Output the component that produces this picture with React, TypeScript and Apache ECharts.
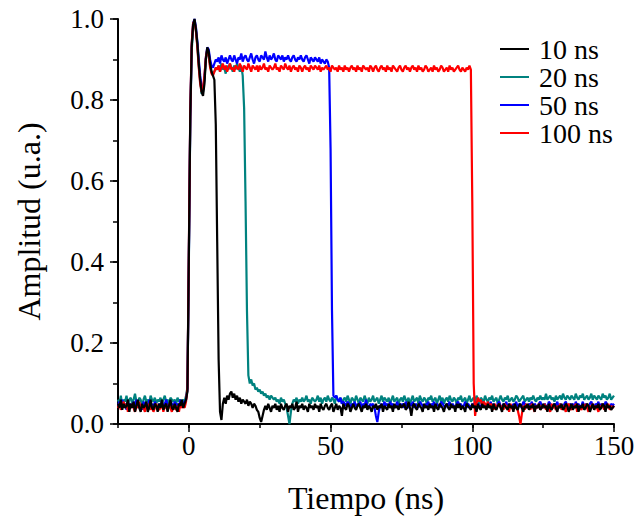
import React, { useEffect, useRef } from "react";
import * as echarts from "echarts";

// Sampling grid of the traces (ns)
const T_START = -25;
const T_STEP = 0.5;

// Axis ticks
const X_LABEL_TICKS = [0, 50, 100, 150];
const Y_LABEL_TICKS = [0, 0.2, 0.4, 0.6, 0.8, 1.0];

const SERIES_NAMES = ["10 ns", "20 ns", "50 ns", "100 ns"];

// Amplitude (u.a.) sampled every 0.5 ns from -25 ns to 150 ns
const AMP_10NS = [
  0.05, 0.04, 0.06, 0.035, 0.05, 0.04, 0.045, 0.06, 0.03, 0.05,
  0.04, 0.055, 0.03, 0.045, 0.06, 0.04, 0.03, 0.05, 0.04, 0.045,
  0.055, 0.03, 0.04, 0.06, 0.04, 0.035, 0.05, 0.045, 0.03, 0.05,
  0.04, 0.06, 0.035, 0.045, 0.05, 0.03, 0.045, 0.06, 0.04, 0.035,
  0.05, 0.04, 0.03, 0.05, 0.045, 0.06, 0.04, 0.05, 0.06, 0.08,
  0.42, 0.76, 0.93, 0.985, 1.0, 0.975, 0.94, 0.89, 0.85, 0.82,
  0.81, 0.84, 0.9, 0.93, 0.92, 0.89, 0.87, 0.86, 0.85, 0.74,
  0.45, 0.16, 0.03, 0.01, 0.05, 0.065, 0.05, 0.07, 0.06, 0.075,
  0.08, 0.065, 0.075, 0.06, 0.07, 0.055, 0.065, 0.05, 0.06, 0.055,
  0.05, 0.06, 0.045, 0.055, 0.05, 0.04, 0.05, 0.045, 0.035, 0.03,
  0.015, 0.005, 0.02, 0.035, 0.045, 0.035, 0.05, 0.04, 0.03, 0.045,
  0.04, 0.05, 0.035, 0.045, 0.03, 0.05, 0.04, 0.035, 0.045, 0.05,
  0.03, 0.045, 0.04, 0.05, 0.035, 0.04, 0.055, 0.03, 0.045, 0.04,
  0.05, 0.035, 0.045, 0.04, 0.03, 0.05, 0.04, 0.045, 0.035, 0.05,
  0.04, 0.045, 0.03, 0.05, 0.04, 0.035, 0.045, 0.05, 0.04, 0.035,
  0.045, 0.05, 0.03, 0.04, 0.05, 0.035, 0.045, 0.04, 0.02, 0.05,
  0.04, 0.035, 0.05, 0.045, 0.03, 0.04, 0.05, 0.04, 0.035, 0.045,
  0.05, 0.04, 0.03, 0.045, 0.04, 0.05, 0.035, 0.045, 0.04, 0.03,
  0.045, 0.04, 0.05, 0.035, 0.045, 0.04, 0.05, 0.03, 0.045, 0.04,
  0.035, 0.05, 0.04, 0.045, 0.03, 0.05, 0.04, 0.045, 0.035, 0.05,
  0.04, 0.045, 0.05, 0.035, 0.04, 0.055, 0.04, 0.02, 0.045, 0.05,
  0.04, 0.035, 0.05, 0.045, 0.04, 0.03, 0.05, 0.04, 0.045, 0.035,
  0.05, 0.04, 0.045, 0.03, 0.05, 0.04, 0.035, 0.05, 0.045, 0.04,
  0.03, 0.045, 0.05, 0.04, 0.035, 0.05, 0.04, 0.045, 0.03, 0.05,
  0.04, 0.05, 0.035, 0.045, 0.04, 0.03, 0.05, 0.045, 0.04, 0.035,
  0.05, 0.04, 0.045, 0.03, 0.05, 0.04, 0.035, 0.05, 0.04, 0.045,
  0.035, 0.05, 0.04, 0.045, 0.03, 0.05, 0.04, 0.035, 0.045, 0.05,
  0.04, 0.03, 0.05, 0.045, 0.04, 0.035, 0.05, 0.04, 0.045, 0.03,
  0.05, 0.04, 0.035, 0.045, 0.05, 0.04, 0.03, 0.045, 0.04, 0.05,
  0.035, 0.045, 0.04, 0.05, 0.03, 0.045, 0.04, 0.05, 0.035, 0.04,
  0.05, 0.04, 0.045, 0.03, 0.05, 0.04, 0.035, 0.045, 0.05, 0.04,
  0.03, 0.045, 0.04, 0.05, 0.035, 0.04, 0.05, 0.045, 0.03, 0.04,
  0.05, 0.035, 0.045, 0.04, 0.05, 0.03, 0.045, 0.04, 0.05, 0.035,
  0.04, 0.05, 0.045, 0.03, 0.04, 0.05, 0.035, 0.045, 0.04, 0.05,
  0.035, 0.04, 0.05, 0.045, 0.03, 0.05, 0.04, 0.045, 0.035, 0.04,
  0.045,
];

const AMP_20NS = [
  0.06, 0.05, 0.07, 0.045, 0.06, 0.055, 0.07, 0.05, 0.06, 0.065,
  0.05, 0.06, 0.075, 0.055, 0.05, 0.065, 0.06, 0.045, 0.06, 0.07,
  0.055, 0.06, 0.05, 0.07, 0.06, 0.055, 0.065, 0.05, 0.06, 0.055,
  0.065, 0.05, 0.06, 0.07, 0.055, 0.06, 0.05, 0.065, 0.06, 0.055,
  0.06, 0.05, 0.065, 0.055, 0.06, 0.05, 0.06, 0.055, 0.07, 0.09,
  0.4, 0.75, 0.92, 0.98, 0.995, 0.97, 0.935, 0.885, 0.845, 0.815,
  0.82, 0.85, 0.9, 0.925, 0.915, 0.885, 0.87, 0.865, 0.87, 0.88,
  0.875, 0.885, 0.87, 0.89, 0.875, 0.88, 0.865, 0.885, 0.875, 0.89,
  0.88, 0.87, 0.885, 0.875, 0.89, 0.88, 0.87, 0.885, 0.86, 0.78,
  0.55, 0.28, 0.12, 0.1, 0.11, 0.095, 0.1, 0.085, 0.09, 0.08,
  0.085, 0.075, 0.08, 0.07, 0.075, 0.065, 0.07, 0.06, 0.07, 0.065,
  0.06, 0.065, 0.055, 0.06, 0.05, 0.065, 0.055, 0.06, 0.05, 0.04,
  0.02, 0.0, 0.03, 0.05, 0.06, 0.055, 0.065, 0.05, 0.06, 0.055,
  0.065, 0.055, 0.06, 0.07, 0.055, 0.06, 0.05, 0.065, 0.06, 0.055,
  0.06, 0.07, 0.055, 0.065, 0.05, 0.06, 0.065, 0.055, 0.07, 0.06,
  0.055, 0.065, 0.06, 0.05, 0.07, 0.06, 0.055, 0.065, 0.05, 0.06,
  0.065, 0.055, 0.07, 0.06, 0.05, 0.065, 0.06, 0.055, 0.07, 0.06,
  0.05, 0.065, 0.06, 0.055, 0.07, 0.06, 0.05, 0.065, 0.055, 0.06,
  0.07, 0.055, 0.06, 0.065, 0.05, 0.06, 0.07, 0.055, 0.065, 0.06,
  0.055, 0.065, 0.05, 0.06, 0.07, 0.055, 0.06, 0.065, 0.05, 0.06,
  0.065, 0.055, 0.07, 0.06, 0.055, 0.065, 0.05, 0.06, 0.07, 0.055,
  0.06, 0.065, 0.05, 0.07, 0.06, 0.055, 0.065, 0.06, 0.05, 0.065,
  0.06, 0.07, 0.055, 0.06, 0.065, 0.05, 0.06, 0.07, 0.055, 0.065,
  0.05, 0.06, 0.065, 0.055, 0.07, 0.06, 0.055, 0.065, 0.06, 0.05,
  0.065, 0.06, 0.07, 0.055, 0.06, 0.065, 0.05, 0.06, 0.07, 0.055,
  0.06, 0.065, 0.055, 0.07, 0.06, 0.05, 0.065, 0.06, 0.055, 0.07,
  0.06, 0.055, 0.065, 0.06, 0.07, 0.055, 0.06, 0.065, 0.05, 0.06,
  0.07, 0.06, 0.055, 0.065, 0.06, 0.07, 0.055, 0.06, 0.065, 0.055,
  0.06, 0.07, 0.065, 0.055, 0.06, 0.065, 0.07, 0.055, 0.06, 0.065,
  0.055, 0.065, 0.06, 0.07, 0.06, 0.055, 0.065, 0.06, 0.07, 0.06,
  0.065, 0.06, 0.075, 0.06, 0.065, 0.07, 0.06, 0.065, 0.055, 0.07,
  0.06, 0.065, 0.07, 0.06, 0.075, 0.065, 0.06, 0.07, 0.065, 0.06,
  0.07, 0.065, 0.06, 0.075, 0.065, 0.06, 0.07, 0.065, 0.075, 0.06,
  0.065, 0.07, 0.06, 0.065, 0.075, 0.06, 0.07, 0.065, 0.06, 0.07,
  0.065, 0.06, 0.075, 0.065, 0.07, 0.06, 0.065, 0.075, 0.06, 0.065,
  0.07,
];

const AMP_50NS = [
  0.045, 0.055, 0.04, 0.06, 0.045, 0.05, 0.035, 0.055, 0.045, 0.05,
  0.04, 0.055, 0.045, 0.06, 0.04, 0.05, 0.045, 0.035, 0.055, 0.045,
  0.05, 0.04, 0.06, 0.045, 0.05, 0.04, 0.055, 0.045, 0.04, 0.05,
  0.045, 0.055, 0.04, 0.05, 0.06, 0.045, 0.04, 0.055, 0.05, 0.04,
  0.055, 0.045, 0.05, 0.04, 0.06, 0.045, 0.05, 0.055, 0.06, 0.085,
  0.41, 0.76, 0.935, 0.99, 1.0, 0.98, 0.945, 0.9, 0.86, 0.83,
  0.825, 0.855, 0.905, 0.93, 0.925, 0.9, 0.885, 0.88, 0.89, 0.9,
  0.895, 0.905, 0.89, 0.91, 0.9, 0.895, 0.905, 0.89, 0.9, 0.91,
  0.9, 0.895, 0.91, 0.9, 0.89, 0.905, 0.9, 0.915, 0.895, 0.905,
  0.91, 0.9, 0.895, 0.905, 0.915, 0.9, 0.89, 0.905, 0.91, 0.9,
  0.895, 0.91, 0.905, 0.9, 0.92, 0.905, 0.895, 0.91, 0.9, 0.905,
  0.915, 0.9, 0.895, 0.91, 0.905, 0.9, 0.91, 0.895, 0.905, 0.9,
  0.91, 0.9, 0.895, 0.905, 0.91, 0.9, 0.895, 0.905, 0.9, 0.91,
  0.9, 0.895, 0.905, 0.91, 0.9, 0.89, 0.905, 0.9, 0.895, 0.905,
  0.9, 0.895, 0.905, 0.89, 0.9, 0.895, 0.89, 0.9, 0.895, 0.88,
  0.68, 0.28, 0.07, 0.065, 0.07, 0.06, 0.055, 0.065, 0.05, 0.055,
  0.05, 0.045, 0.055, 0.05, 0.04, 0.05, 0.045, 0.055, 0.04, 0.05,
  0.045, 0.055, 0.04, 0.05, 0.045, 0.06, 0.045, 0.04, 0.05, 0.045,
  0.05, 0.04, 0.02, 0.005, 0.03, 0.045, 0.05, 0.04, 0.055, 0.045,
  0.05, 0.04, 0.055, 0.045, 0.05, 0.04, 0.045, 0.055, 0.04, 0.05,
  0.045, 0.05, 0.04, 0.055, 0.045, 0.04, 0.05, 0.045, 0.055, 0.04,
  0.05, 0.045, 0.04, 0.055, 0.05, 0.045, 0.04, 0.05, 0.045, 0.055,
  0.04, 0.05, 0.045, 0.055, 0.04, 0.05, 0.045, 0.04, 0.055, 0.05,
  0.045, 0.04, 0.05, 0.045, 0.055, 0.04, 0.05, 0.045, 0.04, 0.05,
  0.055, 0.045, 0.05, 0.04, 0.045, 0.055, 0.04, 0.05, 0.045, 0.04,
  0.05, 0.045, 0.055, 0.04, 0.05, 0.045, 0.04, 0.055, 0.05, 0.045,
  0.04, 0.05, 0.045, 0.055, 0.04, 0.05, 0.045, 0.04, 0.05, 0.055,
  0.045, 0.04, 0.05, 0.045, 0.055, 0.04, 0.05, 0.045, 0.04, 0.05,
  0.045, 0.055, 0.04, 0.05, 0.045, 0.04, 0.055, 0.05, 0.045, 0.04,
  0.05, 0.045, 0.055, 0.04, 0.05, 0.045, 0.04, 0.05, 0.055, 0.045,
  0.04, 0.05, 0.045, 0.04, 0.055, 0.05, 0.045, 0.04, 0.05, 0.045,
  0.055, 0.04, 0.05, 0.045, 0.04, 0.05, 0.055, 0.045, 0.04, 0.05,
  0.045, 0.05, 0.04, 0.055, 0.045, 0.05, 0.04, 0.045, 0.055, 0.04,
  0.05, 0.045, 0.04, 0.05, 0.055, 0.045, 0.04, 0.05, 0.045, 0.055,
  0.04, 0.05, 0.045, 0.04, 0.055, 0.05, 0.045, 0.04, 0.05, 0.045,
  0.05,
];

const AMP_100NS = [
  0.04, 0.05, 0.035, 0.045, 0.055, 0.04, 0.05, 0.03, 0.045, 0.04,
  0.05, 0.04, 0.03, 0.045, 0.04, 0.055, 0.035, 0.045, 0.04, 0.03,
  0.045, 0.04, 0.05, 0.035, 0.045, 0.03, 0.04, 0.05, 0.04, 0.035,
  0.04, 0.05, 0.03, 0.045, 0.04, 0.035, 0.05, 0.04, 0.03, 0.045,
  0.04, 0.035, 0.045, 0.03, 0.05, 0.04, 0.045, 0.04, 0.055, 0.09,
  0.43, 0.77, 0.94, 0.99, 0.995, 0.97, 0.93, 0.88, 0.84, 0.82,
  0.83, 0.86, 0.905, 0.925, 0.91, 0.88, 0.865, 0.86, 0.87, 0.88,
  0.875, 0.885, 0.87, 0.88, 0.89, 0.875, 0.885, 0.87, 0.88, 0.89,
  0.875, 0.88, 0.87, 0.885, 0.88, 0.875, 0.89, 0.88, 0.87, 0.885,
  0.88, 0.875, 0.89, 0.88, 0.87, 0.885, 0.88, 0.875, 0.885, 0.87,
  0.885, 0.875, 0.88, 0.89, 0.875, 0.88, 0.87, 0.885, 0.88, 0.875,
  0.88, 0.89, 0.875, 0.88, 0.87, 0.885, 0.88, 0.875, 0.89, 0.88,
  0.875, 0.885, 0.87, 0.88, 0.885, 0.875, 0.88, 0.87, 0.885, 0.88,
  0.87, 0.88, 0.885, 0.875, 0.88, 0.87, 0.885, 0.88, 0.875, 0.885,
  0.88, 0.875, 0.885, 0.87, 0.88, 0.875, 0.88, 0.885, 0.875, 0.88,
  0.87, 0.885, 0.88, 0.875, 0.88, 0.87, 0.885, 0.875, 0.88, 0.87,
  0.885, 0.875, 0.88, 0.87, 0.88, 0.885, 0.875, 0.88, 0.87, 0.885,
  0.875, 0.88, 0.87, 0.885, 0.88, 0.875, 0.88, 0.87, 0.885, 0.88,
  0.87, 0.88, 0.885, 0.875, 0.87, 0.88, 0.885, 0.875, 0.88, 0.87,
  0.885, 0.875, 0.88, 0.87, 0.885, 0.88, 0.875, 0.87, 0.88, 0.885,
  0.875, 0.87, 0.88, 0.885, 0.875, 0.88, 0.87, 0.88, 0.885, 0.875,
  0.88, 0.87, 0.885, 0.875, 0.88, 0.87, 0.875, 0.885, 0.88, 0.87,
  0.875, 0.88, 0.87, 0.885, 0.875, 0.88, 0.87, 0.875, 0.885, 0.88,
  0.87, 0.875, 0.88, 0.87, 0.885, 0.875, 0.88, 0.87, 0.875, 0.88,
  0.885, 0.875, 0.87, 0.88, 0.875, 0.87, 0.88, 0.875, 0.885, 0.875,
  0.55, 0.1, 0.02, 0.05, 0.065, 0.055, 0.06, 0.045, 0.055, 0.05,
  0.045, 0.055, 0.04, 0.05, 0.045, 0.035, 0.05, 0.04, 0.045, 0.05,
  0.04, 0.045, 0.035, 0.05, 0.04, 0.045, 0.03, 0.05, 0.04, 0.035,
  0.045, 0.04, 0.035, 0.02, 0.0, 0.025, 0.045, 0.035, 0.05, 0.04,
  0.045, 0.035, 0.05, 0.04, 0.03, 0.045, 0.04, 0.05, 0.035, 0.045,
  0.04, 0.05, 0.035, 0.045, 0.04, 0.03, 0.05, 0.04, 0.045, 0.035,
  0.045, 0.04, 0.05, 0.035, 0.045, 0.04, 0.03, 0.045, 0.05, 0.04,
  0.035, 0.045, 0.04, 0.05, 0.03, 0.045, 0.04, 0.035, 0.045, 0.04,
  0.05, 0.04, 0.03, 0.045, 0.04, 0.05, 0.035, 0.045, 0.04, 0.03,
  0.045, 0.04, 0.05, 0.035, 0.045, 0.04, 0.05, 0.035, 0.045, 0.04,
  0.045,
];

const FONT = "Liberation Serif";

const toPoints = (values: number[]) =>
  values.map((v, i) => [T_START + i * T_STEP, v]);

export default function App() {
  const ref = useRef<HTMLDivElement>(null);

  useEffect(() => {
    if (!ref.current) return;
    const chart = echarts.init(ref.current, null, { renderer: "svg" });

    const mk = (name: string, color: string, values: number[]) => ({
      name,
      type: "line",
      data: toPoints(values),
      showSymbol: false,
      symbol: "none",
      color,
      lineStyle: { color, width: 2.2 },
      clip: true,
    });

    const tickStyle = { color: "#000", width: 1.5 };

    chart.setOption({
      animation: false,
      backgroundColor: "#fff",
      textStyle: { fontFamily: FONT },
      grid: {
        left: 118,
        right: 25,
        top: 19,
        bottom: 94,
        containLabel: false,
        outerBoundsMode: "none",
      },
      legend: {
        orient: "vertical",
        left: 495,
        top: 30,
        itemWidth: 29,
        itemHeight: 2,
        itemGap: 0,
        icon: "rect",
        data: SERIES_NAMES,
        textStyle: {
          fontFamily: FONT,
          fontSize: 28,
          color: "#000",
          lineHeight: 25,
          padding: [0, 0, 0, 5],
        },
      },
      xAxis: [
        {
          type: "value",
          min: -25,
          max: 150,
          interval: 25,
          axisLine: { show: true, onZero: false, lineStyle: { color: "#000", width: 2 } },
          axisTick: { show: true, length: 4, lineStyle: tickStyle },
          axisLabel: {
            customValues: X_LABEL_TICKS,
            fontFamily: FONT,
            fontSize: 27,
            color: "#000",
            margin: 8,
          },
          splitLine: { show: false },
          name: "Tiempo (ns)",
          nameLocation: "middle",
          nameGap: 58,
          nameTextStyle: { fontFamily: FONT, fontSize: 32, color: "#000" },
        },
        {
          type: "value",
          min: -25,
          max: 150,
          interval: 25,
          position: "bottom",
          axisLine: { show: false, onZero: false },
          axisTick: { show: true, customValues: X_LABEL_TICKS, length: 8, lineStyle: tickStyle },
          axisLabel: { show: false },
          splitLine: { show: false },
        },
      ],
      yAxis: [
        {
          type: "value",
          min: 0,
          max: 1,
          interval: 0.1,
          axisLine: { show: true, onZero: false, lineStyle: { color: "#000", width: 2 } },
          axisTick: { show: true, length: 5, lineStyle: tickStyle },
          axisLabel: {
            customValues: Y_LABEL_TICKS,
            formatter: (v: number) => v.toFixed(1),
            fontFamily: FONT,
            fontSize: 27,
            color: "#000",
            margin: 14,
          },
          splitLine: { show: false },
          name: "Amplitud (u.a.)",
          nameLocation: "middle",
          nameGap: 73,
          nameTextStyle: { fontFamily: FONT, fontSize: 32, color: "#000" },
        },
        {
          type: "value",
          min: 0,
          max: 1,
          interval: 0.2,
          position: "left",
          axisLine: { show: false, onZero: false },
          axisTick: { show: true, length: 8, lineStyle: tickStyle },
          axisLabel: { show: false },
          splitLine: { show: false },
        },
      ],
      series: [
        mk("20 ns", "#00827f", AMP_20NS),
        mk("50 ns", "#0000ff", AMP_50NS),
        mk("100 ns", "#ff0000", AMP_100NS),
        mk("10 ns", "#000000", AMP_10NS),
      ],
    });

    return () => chart.dispose();
  }, []);

  return (
    <div
      ref={ref}
      style={{ position: "absolute", left: 0, top: 0, width: 639, height: 518 }}
    />
  );
}
